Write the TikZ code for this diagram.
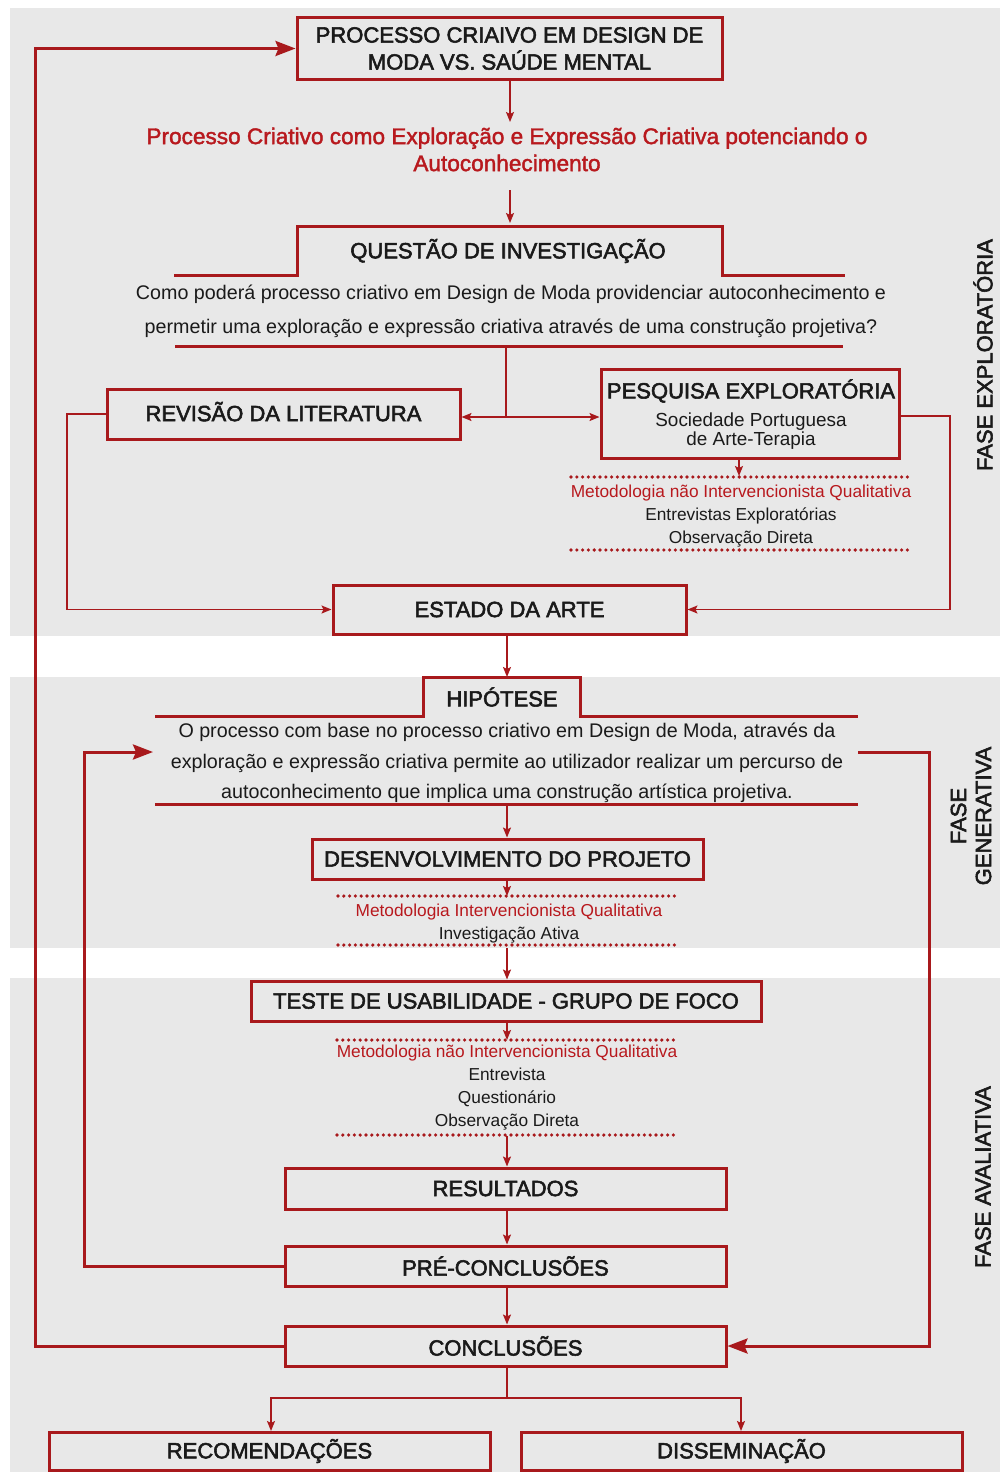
\documentclass[tikz,border=0pt]{standalone}
\usepackage{fontspec}
\setmainfont{Liberation Sans}
\newfontfamily\medfont[FakeBold=2.5]{Liberation Sans}
\newfontfamily\redfont[FakeBold=1.8]{Liberation Sans}
\usetikzlibrary{arrows.meta}
\definecolor{lr}{HTML}{A8191C}
\definecolor{tr}{HTML}{B8191E}
\definecolor{bg}{HTML}{E8E8E8}
\definecolor{ink}{HTML}{1A1A1A}
\begin{document}
\begin{tikzpicture}[x=1pt,y=-1pt,
  box/.style={draw=lr, line width=3pt, inner sep=0pt, text=ink, align=center,
    font=\medfont\fontsize{22}{27}\selectfont},
  ttl/.style={text=ink, inner sep=0pt, font=\medfont\fontsize{22}{27}\selectfont},
  body/.style={text=ink, inner sep=0pt, align=center, font=\fontsize{19.7}{30.5}\selectfont},
  meth/.style={text=ink, inner sep=0pt, align=center, font=\fontsize{17.3}{23}\selectfont},
  redt/.style={text=tr, inner sep=0pt, align=center, font=\redfont\fontsize{22.6}{27}\selectfont},
  arr/.style={draw=lr, line width=1.6pt, -{Stealth[length=10pt,width=8pt,inset=2pt]}},
  bigarr/.style={draw=lr, line width=3pt, -{Stealth[length=20pt,width=15pt,inset=3pt]}},
  thinl/.style={draw=lr, line width=1.6pt},
  thickl/.style={draw=lr, line width=3pt},
  dots/.style={draw=lr, line width=3.6pt, line cap=round, dash pattern=on 0pt off 5.8pt},
  phase/.style={text=ink, inner sep=0pt, rotate=90, align=center, font=\medfont\fontsize{22}{27}\selectfont}]
\useasboundingbox (0,0) rectangle (1000,1472);
% panels
\fill[bg] (10,8) rectangle (1000,636);
\fill[bg] (10,677) rectangle (1000,948);
\fill[bg] (10,978) rectangle (1000,1472);

% top
\node[box, minimum width=425pt, minimum height=61pt] (top) at (509.5,48.5)
  {PROCESSO CRIAIVO EM DESIGN DE\\MODA VS. SAÚDE MENTAL};
\node[redt] (red) at (507,149.5)
  {Processo Criativo como Exploração e Expressão Criativa potenciando o\\Autoconhecimento};
\coordinate (a1) at (510,122);
\draw[arr] (top.south -| a1) -- (a1);
\coordinate (a2t) at (510,190);
\coordinate (a2b) at (510,223);
\draw[arr] (a2t) -- (a2b);

% questao
\draw[thickl] (174,275) -- (297,275) -- (297,226) -- (722,226) -- (722,275) -- (845,275);
\node[ttl] (qt) at (508,251) {QUESTÃO DE INVESTIGAÇÃO};
\node[body, font=\fontsize{19.7}{34}\selectfont] (qq) at (511,311)
  {Como poderá processo criativo em Design de Moda providenciar autoconhecimento e\\permetir uma exploração e expressão criativa através de uma construção projetiva?};
\draw[thickl] (175,346) -- (843,346);

% revisao / pesquisa
\node[box, minimum width=353pt, minimum height=50pt] (rev) at (283.5,414) {REVISÃO DA LITERATURA\rule[-5pt]{0pt}{5pt}};
\node[box, minimum width=298pt, minimum height=89pt] (pesq) at (750,413.5) {};
\node[ttl] (pesqt) at (751,391) {PESQUISA EXPLORATÓRIA};
\node[body, font=\fontsize{18.9}{19.5}\selectfont] (pesqs) at (751,431) {Sociedade Portuguesa\\de Arte-Terapia};
\coordinate (qb) at (506,346);
\coordinate (j) at (506,417);
\draw[thinl] (qb) -- (j);
\draw[arr] (j) -- (rev.east |- j);
\draw[arr] (j) -- (pesq.west |- j);

% method 1
\draw[dots] (571,477) -- (913,477);
\draw[dots] (571,550) -- (913,550);
\node[meth] (m1) at (741,516) {\textcolor{tr}{Metodologia não Intervencionista Qualitativa}\\Entrevistas Exploratórias\\Observação Direta};
\coordinate (m1t) at (739,476);
\draw[arr] (pesq.south -| m1t) -- (m1t);

% estado
\node[box, minimum width=353pt, minimum height=49pt] (est) at (509.5,609.5) {ESTADO DA ARTE};
\draw[arr] (rev.west) -- (67,414) |- (est.west);
\draw[arr] (pesq.east |- 0,416) -- (950,416) |- (est.east);

% hipotese
\coordinate (h0) at (507,677);
\draw[arr] (est.south -| h0) -- (h0);
\draw[thickl] (155,716) -- (423,716) -- (423,677) -- (580,677) -- (580,716) -- (858,716);
\node[ttl] (ht) at (502,697) {HIPÓTESE};
\node[body] (hq) at (507,763)
  {O processo com base no processo criativo em Design de Moda, através da\\exploração e expressão criativa permite ao utilizador realizar um percurso de\\autoconhecimento que implica uma construção artística projetiva.};
\draw[thickl] (155,804) -- (858,804);

% desenvolvimento
\node[box, minimum width=391pt, minimum height=40pt] (dev) at (507.5,859) {DESENVOLVIMENTO DO PROJETO};
\coordinate (hb) at (507,804);
\draw[arr] (hb) -- (dev.north -| hb);
\draw[dots] (338,896) -- (680,896);
\draw[dots] (338,945) -- (680,945);
\node[meth] (m2) at (509,923.5) {\textcolor{tr}{Metodologia Intervencionista Qualitativa}\\Investigação Ativa};
\coordinate (m2t) at (507,896);
\draw[arr] (dev.south -| m2t) -- (m2t);

% teste
\node[box, minimum width=510pt, minimum height=40pt] (tst) at (506,1001) {TESTE DE USABILIDADE - GRUPO DE FOCO};
\coordinate (m2b) at (507,948);
\draw[arr] (m2b) -- (tst.north -| m2b);
\draw[dots] (337,1040) -- (678,1040);
\draw[dots] (337,1135) -- (678,1135);
\node[meth] (m3) at (507,1087.5) {\textcolor{tr}{Metodologia não Intervencionista Qualitativa}\\Entrevista\\Questionário\\Observação Direta};
\coordinate (m3t) at (507,1040);
\draw[arr] (tst.south -| m3t) -- (m3t);

% resultados etc
\node[box, minimum width=441pt, minimum height=41pt] (res) at (505.5,1188.5) {RESULTADOS};
\node[box, minimum width=441pt, minimum height=40pt] (pre) at (505.5,1266) {PRÉ-CONCLUSÕES};
\node[box, minimum width=441pt, minimum height=40pt] (con) at (505.5,1346) {CONCLUSÕES};
\coordinate (m3b) at (507,1136);
\draw[arr] (m3b) -- (res.north -| m3b);
\draw[arr] (res.south -| m3b) -- (pre.north -| m3b);
\draw[arr] (pre.south -| m3b) -- (con.north -| m3b);

% final
\node[box, minimum width=441pt, minimum height=38pt] (rec) at (269.5,1451) {RECOMENDAÇÕES};
\node[box, minimum width=441pt, minimum height=38pt] (dis) at (741.5,1451) {DISSEMINAÇÃO};
\coordinate (sp) at (507,1398);
\draw[thinl] (con.south -| sp) -- (sp);
\draw[arr] (sp) -| (271,1431);
\draw[arr] (sp) -| (741,1431);

% loops
\draw[bigarr] (con.west) -- (35,1346) |- (top.west);
\coordinate (hin) at (153,752);
\draw[bigarr] (pre.west) -- (84,1266) |- (hin);
\coordinate (hout) at (858,752);
\draw[bigarr] (hout) -- (929,752) |- (con.east);

% phase labels
\node[phase] (p1) at (983,355) {FASE EXPLORATÓRIA};
\node[phase, font=\medfont\fontsize{22}{25}\selectfont] (p2) at (971,816) {FASE\\GENERATIVA};
\node[phase] (p3) at (983,1177) {FASE AVALIATIVA};
\end{tikzpicture}
\end{document}
